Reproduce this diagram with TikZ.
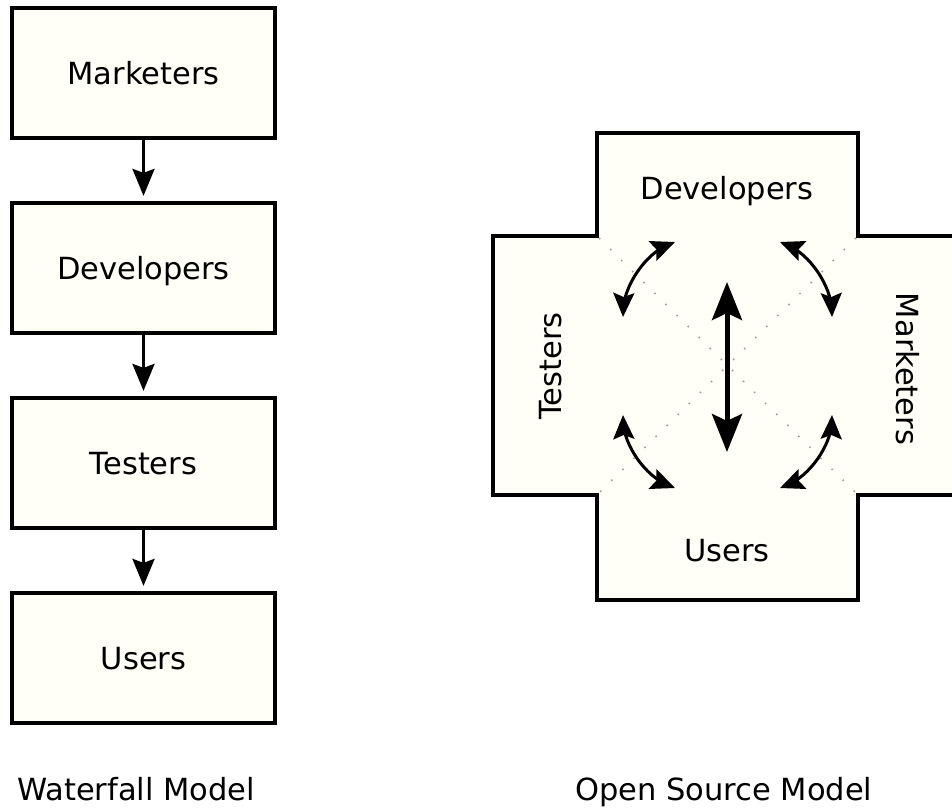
\documentclass[tikz,border=0pt]{standalone}
\usepackage{fontspec}
\setmainfont{DejaVu Sans}
\usetikzlibrary{arrows.meta,calc}
\definecolor{boxfill}{HTML}{FFFFF8}
\definecolor{dotgray}{HTML}{A0A0A0}
\begin{document}
\begin{tikzpicture}[x=1pt,y=-1pt,
  lbl/.style={font=\fontsize{30.5}{36}\selectfont, inner sep=0pt,
              text height=22.2pt, text depth=0pt},
  wfbox/.style={draw, line width=4.2pt, fill=boxfill, minimum width=263pt,
                minimum height=130pt, inner sep=0pt, lbl},
  wfarrow/.style={line width=3.2pt, -{Stealth[length=27pt,width=22pt,inset=4pt]},
                  shorten >=5pt},
  swingline/.style={line width=3pt, shorten <=7pt, shorten >=7pt},
  swingtip/.style={tips, line width=3pt, -{Stealth[length=24pt,width=21pt,inset=4pt]}},
  mainarrow/.style={line width=5pt,
                {Stealth[length=38pt,width=30pt,inset=7pt]}-{Stealth[length=38pt,width=30pt,inset=7pt]}},
  diag/.style={dotgray, line width=1.6pt, dash pattern=on 1.6pt off 14pt},
]
\useasboundingbox (0,0) rectangle (952,808);
\clip (0,0) rectangle (952,808);

% ---------- Waterfall model ----------
\node[wfbox] (wm) at (143.5,73)  {Marketers};
\node[wfbox] (wd) at (143.5,268) {Developers};
\node[wfbox] (wt) at (143.5,463) {Testers};
\node[wfbox] (wu) at (143.5,658) {Users};
\draw[wfarrow] (wm.south) -- (wd.north);
\draw[wfarrow] (wd.south) -- (wt.north);
\draw[wfarrow] (wt.south) -- (wu.north);
\node[lbl, anchor=west] (wcap) at (17,789) {Waterfall Model};

% ---------- Open source model ----------
\draw[line width=3.8pt, line join=miter, fill=boxfill]
  (597,133) -- (858,133) -- (858,236) -- (964,236) -- (964,495) -- (858,495)
  -- (858,600) -- (597,600) -- (597,495) -- (493,495) -- (493,236) -- (597,236)
  -- cycle;

% faint diagonals between the inner corners
\coordinate (c1) at (599,238);
\coordinate (c2) at (856,238);
\coordinate (c3) at (856,493);
\coordinate (c4) at (599,493);
\draw[diag] (c1) -- (c3);
\draw[diag] (c2) -- (c4);

\node[lbl] (od) at (727,188) {Developers};
\node[lbl] (ou) at (727,550) {Users};
\node[lbl, rotate=90]  (ot) at (550,366) {Testers};
\node[lbl, rotate=-90] (om) at (908,369) {Marketers};

% curved two-way arrows: end points and control points
\coordinate (tlA) at (675,242); \coordinate (tlP) at (645,254);
\coordinate (tlQ) at (624,286); \coordinate (tlB) at (623,317);
\coordinate (trA) at (780,242); \coordinate (trP) at (810,254);
\coordinate (trQ) at (831,286); \coordinate (trB) at (832,317);
\coordinate (blA) at (675,488); \coordinate (blP) at (645,476);
\coordinate (blQ) at (624,445); \coordinate (blB) at (623,415);
\coordinate (brA) at (780,488); \coordinate (brP) at (810,476);
\coordinate (brQ) at (831,445); \coordinate (brB) at (832,415);

\foreach \k in {tl,tr,bl,br}{
  \draw[swingline] (\k A) .. controls (\k P) and (\k Q) .. (\k B);
  \path[swingtip] ($(\k A)!3pt!(\k P)$) -- (\k A);
  \path[swingtip] ($(\k B)!3pt!(\k Q)$) -- (\k B);
}

% central two-way arrow
\coordinate (mt) at (727,282);
\coordinate (mb) at (727,452);
\draw[mainarrow] (mt) -- (mb);

\node[lbl, anchor=west] (ocap) at (575,789) {Open Source Model};
\end{tikzpicture}
\end{document}
